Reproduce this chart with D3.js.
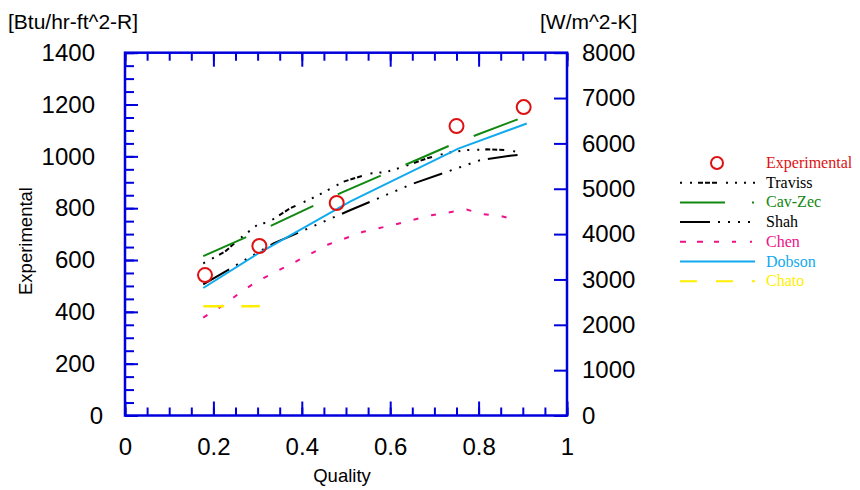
<!DOCTYPE html>
<html>
<head>
<meta charset="utf-8">
<script src="https://cdn.jsdelivr.net/npm/d3@7"></script>
<style>
  body { margin: 0; background: #fff; }
  svg text { font-family: "Liberation Sans", Arial, sans-serif; }
  .legend text { font-family: "Liberation Serif", "Times New Roman", serif; font-size: 16px; }
</style>
</head>
<body>
<div id="chart"></div>
<script>
// data (quality, Btu/hr-ft^2-R)
const experimental = [[0.181, 542], [0.304, 654], [0.479, 820], [0.750, 1117], [0.902, 1190]];
const traviss = [[0.177, 587], [0.226, 632], [0.260, 683], [0.302, 739], [0.324, 745], [0.373, 799],
  [0.434, 847], [0.494, 902], [0.554, 934], [0.592, 940], [0.630, 960], [0.686, 994],
  [0.728, 1013], [0.773, 1024], [0.818, 1027], [0.864, 1024], [0.890, 1017]];
const cavZec = [[0.177, 615], [0.300, 708], [0.490, 860], [0.754, 1056], [0.909, 1156]];
const shah = [[0.177, 506], [0.336, 664], [0.509, 792], [0.649, 893], [0.803, 985], [0.871, 1002], [0.900, 1008]];
const chen = [[0.177, 378], [0.226, 430], [0.268, 484], [0.305, 523], [0.381, 589], [0.460, 660],
  [0.539, 709], [0.613, 738], [0.694, 773], [0.773, 795], [0.807, 777], [0.848, 771], [0.886, 754]];
const dobson = [[0.177, 492], [0.302, 626], [0.509, 825], [0.754, 1030], [0.909, 1127]];
const chato = [[0.177, 422], [0.305, 422]];

const xTicks = [0, 0.2, 0.4, 0.6, 0.8, 1];
const yTicks = [0, 200, 400, 600, 800, 1000, 1200, 1400];
const yRightTicks = [0, 1000, 2000, 3000, 4000, 5000, 6000, 7000, 8000];

const legendNames = ["Experimental", "Traviss", "Cav-Zec", "Shah", "Chen", "Dobson", "Chato"];

// styles
const axisColor = "#0000dd";
const series = [
  { data: traviss, color: "#000", width: 2, dash: "2 8 2 6 5 2 5 2 5 9 2 7 2 7 2 7" },
  { data: cavZec, color: "#118811", width: 2, dash: "47 27" },
  { data: shah, color: "#000", width: 2, dash: "30 8 2 8 2 8 2 8 2 8" },
  { data: chen, color: "#ee1188", width: 2, dash: "5 13" },
  { data: dobson, color: "#11aaee", width: 2, dash: null },
  { data: chato, color: "#ffee00", width: 2.5, dash: "21 17" }
];
const legendStyle = [
  { color: "#dd1111", text: "#dd1111" },
  { color: "#000", text: "#000", dash: series[0].dash },
  { color: "#118811", text: "#118811", dash: "45 27 2 10" },
  { color: "#000", text: "#000", dash: series[2].dash },
  { color: "#ee1188", text: "#ee1188", dash: "6 11 6 11 5 13 4 14 2 10" },
  { color: "#11aaee", text: "#11aaee", dash: null },
  { color: "#ffee00", text: "#ffee00", dash: "17 19" }
];

const W = 860, H = 490;
const mLeft = 125, mRight = 567, mTop = 52.7, mBottom = 415.5;

const svg = d3.select("#chart").append("svg")
  .attr("width", W).attr("height", H);

const x = d3.scaleLinear().domain([0, 1]).range([mLeft, mRight]);
const y = d3.scaleLinear().domain([0, 1400]).range([mBottom, mTop]);
const yR = d3.scaleLinear().domain([0, 8000]).range([mBottom, mTop]);

// minor ticks
const xMinor = d3.range(0, 1.0001, 0.05).map(v => +v.toFixed(2));
const yMinor = d3.range(0, 1401, 50);

function styleAxis(g) {
  g.select(".domain").remove();
  g.selectAll(".tick line").attr("stroke", axisColor).attr("stroke-width", 2);
  g.selectAll(".tick text").attr("fill", "#000").attr("font-size", 24);
}

svg.append("g").attr("transform", `translate(0,${mBottom})`)
  .call(d3.axisBottom(x).tickValues(xMinor).tickSize(-8).tickFormat(""))
  .call(styleAxis);
svg.append("g").attr("transform", `translate(0,${mTop})`)
  .call(d3.axisTop(x).tickValues(xMinor).tickSize(-8).tickFormat(""))
  .call(styleAxis);
svg.append("g").attr("transform", `translate(0,${mBottom})`)
  .call(d3.axisBottom(x).tickValues(xTicks).tickSize(-14).tickPadding(22.5).tickFormat(d3.format("")))
  .call(styleAxis);
svg.append("g").attr("transform", `translate(0,${mTop})`)
  .call(d3.axisTop(x).tickValues(xTicks).tickSize(-14).tickFormat(""))
  .call(styleAxis);

svg.append("g").attr("transform", `translate(${mLeft},0)`)
  .call(d3.axisLeft(y).tickValues(yMinor).tickSize(-9).tickFormat(""))
  .call(styleAxis);
const yAxisG = svg.append("g").attr("transform", `translate(${mLeft},0)`)
  .call(d3.axisLeft(y).tickValues(yTicks).tickSize(-13).tickPadding(30).tickFormat(d3.format("")))
  .call(styleAxis);
// the zero label sits further right in the original
yAxisG.selectAll(".tick text").filter(d => d === 0).attr("x", -22);

svg.append("g").attr("transform", `translate(${mRight},0)`)
  .call(d3.axisRight(yR).tickValues(yRightTicks).tickSize(-13).tickPadding(15).tickFormat(d3.format("")))
  .call(styleAxis);

// frame
svg.append("rect")
  .attr("x", mLeft).attr("y", mTop)
  .attr("width", mRight - mLeft).attr("height", mBottom - mTop)
  .attr("fill", "none").attr("stroke", axisColor).attr("stroke-width", 2.5);

// unit labels and titles
svg.append("text").attr("x", 8).attr("y", 29).attr("font-size", 21).text("[Btu/hr-ft^2-R]");
svg.append("text").attr("x", 540).attr("y", 29).attr("font-size", 21).text("[W/m^2-K]");
svg.append("text").attr("x", (mLeft + mRight) / 2 - 4).attr("y", 482)
  .attr("text-anchor", "middle").attr("font-size", 18.5).text("Quality");
svg.append("text").attr("transform", "translate(32,241) rotate(-90)")
  .attr("text-anchor", "middle").attr("font-size", 18.5).text("Experimental");

// lines
const line = d3.line().x(d => x(d[0])).y(d => y(d[1]));
series.forEach(s => {
  svg.append("path")
    .attr("d", line(s.data))
    .attr("fill", "none")
    .attr("stroke", s.color)
    .attr("stroke-width", s.width)
    .attr("stroke-dasharray", s.dash);
});

// experimental points
svg.selectAll(".exp").data(experimental).enter().append("circle")
  .attr("cx", d => x(d[0])).attr("cy", d => y(d[1]))
  .attr("r", 7)
  .attr("fill", "none").attr("stroke", "#dd1111").attr("stroke-width", 2);

// legend
const leg = svg.append("g").attr("class", "legend");
legendNames.forEach((name, i) => {
  const cy = 163 + i * 19.7;
  const st = legendStyle[i];
  if (i === 0) {
    leg.append("circle").attr("cx", 717).attr("cy", cy).attr("r", 6)
      .attr("fill", "none").attr("stroke", st.color).attr("stroke-width", 2);
  } else {
    leg.append("line").attr("x1", 680).attr("x2", 755).attr("y1", cy).attr("y2", cy)
      .attr("stroke", st.color).attr("stroke-width", 2)
      .attr("stroke-dasharray", st.dash);
  }
  leg.append("text").attr("x", 766).attr("y", cy + 5).attr("fill", st.text).text(name);
});
</script>
</body>
</html>
